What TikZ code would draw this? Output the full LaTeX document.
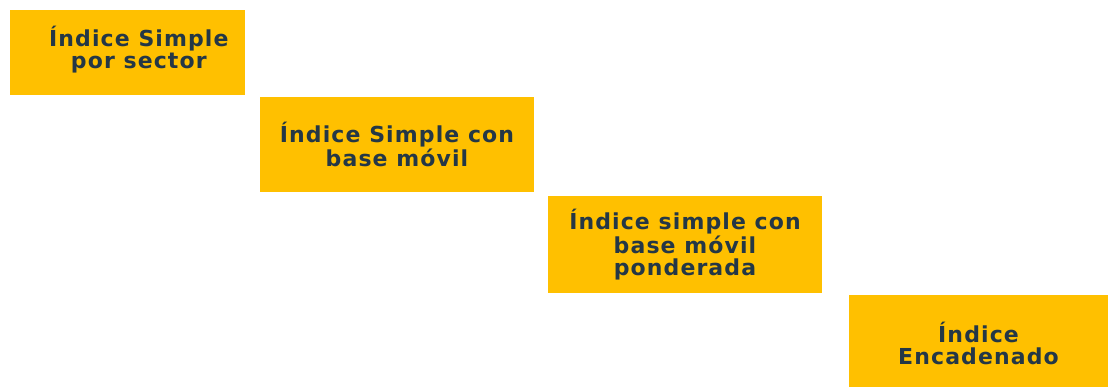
\documentclass[tikz,border=0pt]{standalone}
\usepackage{fontspec}
\setmainfont[LetterSpace=5]{DejaVu Sans}
\usetikzlibrary{positioning}
\definecolor{amber}{HTML}{FFC000}
\definecolor{slate}{HTML}{243746}
\tikzset{
  stepbox/.style={fill=amber, inner sep=0pt},
  steptext/.style={text=slate, align=center, font=\bfseries\fontsize{16.5}{16.5}\selectfont}
}
\begin{document}
\begin{tikzpicture}[x=0.75pt,y=-0.75pt]
    \useasboundingbox (0,0) rectangle (1108,387);
    % escalones
    \node [stepbox, minimum width=176.25pt, minimum height=63.75pt] (sector) at (127.5,52.5) {};
    \node [stepbox, minimum width=205.5pt, minimum height=71.25pt] (movil) at (397,144.5) {};
    \node [stepbox, minimum width=205.5pt, minimum height=72.75pt] (ponderada) at (685,244.5) {};
    \node [stepbox, minimum width=194.25pt, minimum height=69pt] (encadenado) at (978.5,341) {};
    % textos
    \node [steptext] (sectorText) at ([xshift=8.5pt,yshift=2pt]sector.center) {Índice Simple\\por sector};
    \node [steptext] (movilText) at (movil.center) {Índice Simple con\\base móvil};
    \node [steptext] (ponderadaText) at (ponderada.center) {Índice simple con\\base móvil\\ponderada};
    \node [steptext] (encadenadoText) at ([yshift=-2pt]encadenado.center) {Índice\\Encadenado};
\end{tikzpicture}
\end{document}
